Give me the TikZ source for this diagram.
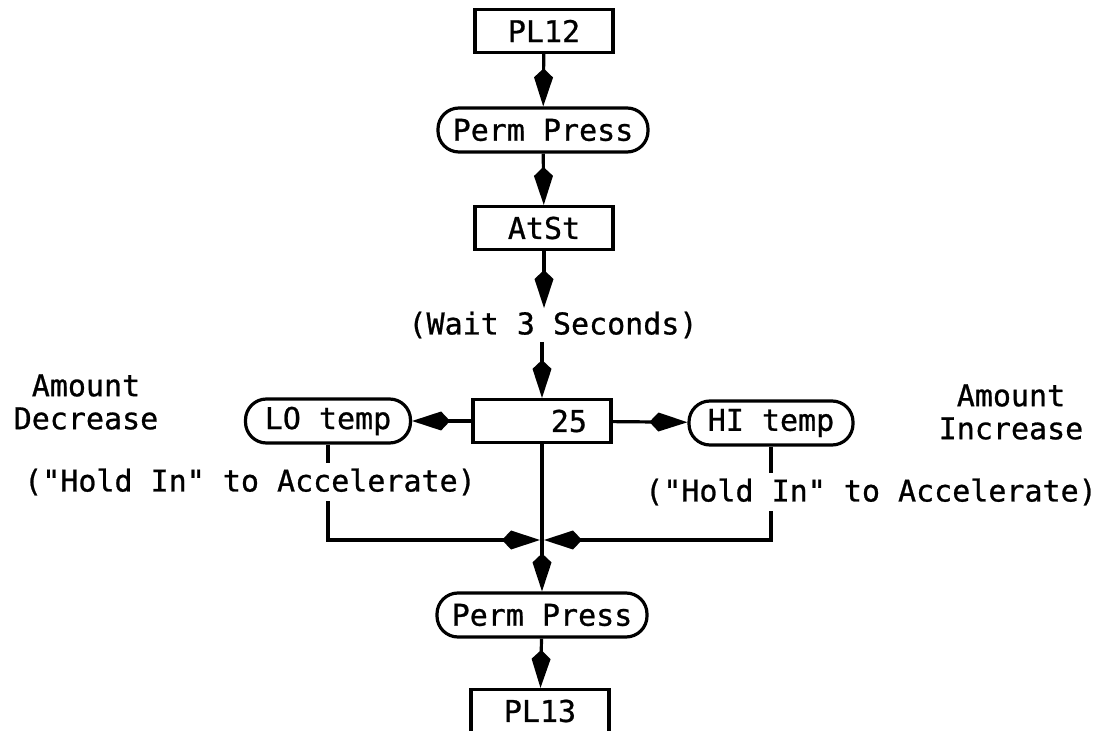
\documentclass[tikz,border=0pt]{standalone}
\usepackage{fontspec}
\newfontfamily\telefont{DejaVu Sans Mono}[FakeBold=0.8]
\usetikzlibrary{arrows.meta}

\begin{document}
\begin{tikzpicture}[x=0.5pt, y=-0.5pt,
  font=\telefont\fontsize{15pt}{16.5pt}\selectfont, line width=1.6pt,
  box/.style={draw, minimum width=69pt, minimum height=21.5pt, inner sep=0pt},
  pill/.style={draw, rounded corners=10.5pt, minimum height=22pt, inner sep=0pt},
  note/.style={align=center, inner sep=1pt},
  cover/.style={fill=white, inner sep=3pt},
  kite/.style={-{Kite[length=19pt, width=9.5pt, inset=4.5pt]}}]
 \useasboundingbox (0,0) rectangle (1113,731);
 \node[box] (pl12) at (544,31) {PL12};
 \node[pill, minimum width=105pt] (perm1) at (543,130) {Perm Press};
 \node[box] (atst) at (544,228) {AtSt};
 \node[note] (wait) at (553,325) {(Wait 3 Seconds)};
 \node[box, text width=45pt, align=right, inner xsep=12pt] (val) at (542,421) {25};
 \node[pill, minimum width=82.5pt] (lo) at (328,421) {LO temp};
 \node[pill, minimum width=82pt] (hi) at (771,423) {HI temp};
 \node[note] (dec) at (86,402) {Amount\\Decrease};
 \node[note] (inc) at (1011,412) {Amount\\Increase};
 \node[pill, minimum width=105pt] (perm2) at (542,615) {Perm Press};
 \node[box] (pl13) at (540,711) {PL13};
 \coordinate (jl) at (540,540);
 \coordinate (jr) at (544,540);
 \path[kite]
  (pl12) edge (perm1)
  (perm1) edge (atst)
  (atst) edge (atst |- wait.north)
  (val |- wait.south) edge (val)
  (val) edge (lo)
  (val) edge (hi)
  (val) edge (perm2)
  (perm2) edge (pl13);
 \draw[kite] (lo.south) |- (jl);
 \draw[kite] (hi.south) |- (jr);
 \node[cover] (holdl) at (250,482) {("Hold In" to Accelerate)};
 \node[cover] (holdr) at (871,492) {("Hold In" to Accelerate)};
\end{tikzpicture}
\end{document}
